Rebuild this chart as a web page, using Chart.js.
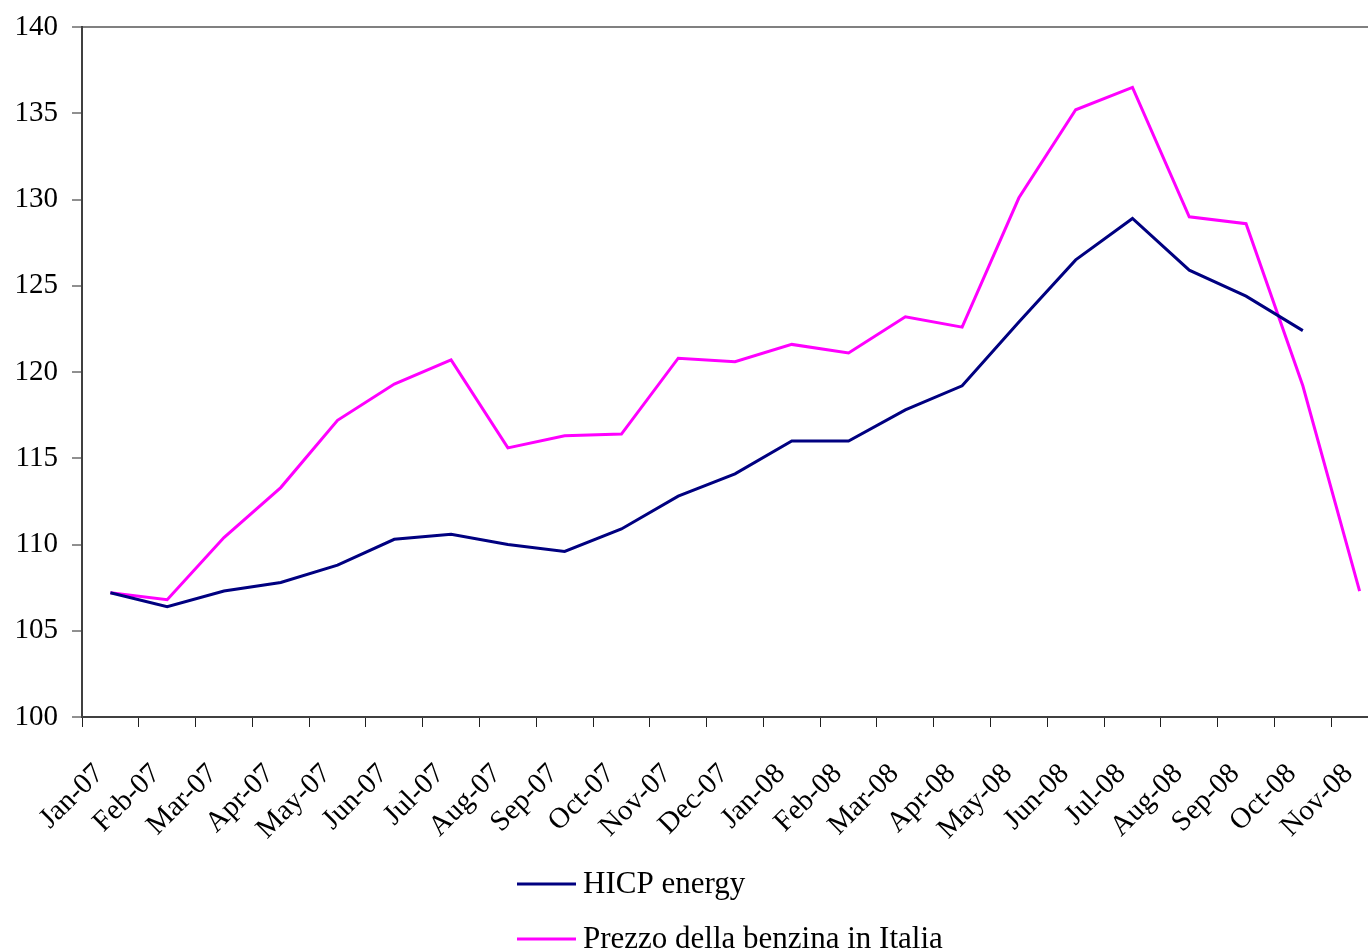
<!DOCTYPE html>
<html>
<head>
<meta charset="utf-8">
<title>HICP energy e prezzo della benzina</title>
<script src="https://cdn.jsdelivr.net/npm/chart.js@4/dist/chart.umd.min.js"></script>
<style>
    html, body { margin: 0; padding: 0; background: #ffffff; overflow: hidden; }
    #wrap { width: 1400px; height: 951px; }
</style>
</head>
<body>
<div id="wrap"><canvas id="chart" width="1400" height="951"></canvas></div>
<script>

// Monthly index values, Jan-07 .. Nov-08
const months = [
    "Jan-07", "Feb-07", "Mar-07", "Apr-07", "May-07", "Jun-07",
    "Jul-07", "Aug-07", "Sep-07", "Oct-07", "Nov-07", "Dec-07",
    "Jan-08", "Feb-08", "Mar-08", "Apr-08", "May-08", "Jun-08",
    "Jul-08", "Aug-08", "Sep-08", "Oct-08", "Nov-08"
];

const hicpEnergy = [
    107.2, 106.4, 107.3, 107.8, 108.8, 110.3,
    110.6, 110.0, 109.6, 110.9, 112.8, 114.1,
    116.0, 116.0, 117.8, 119.2, 122.9, 126.5,
    128.9, 125.9, 124.4, 122.4, null
];

const prezzoBenzina = [
    107.2, 106.8, 110.4, 113.3, 117.2, 119.3,
    120.7, 115.6, 116.3, 116.4, 120.8, 120.6,
    121.6, 121.1, 123.2, 122.6, 130.1, 135.2,
    136.5, 129.0, 128.6, 119.2, 107.3
];

const yTicks = [100, 105, 110, 115, 120, 125, 130, 135, 140];

const serif = "'Liberation Serif', 'Times New Roman', serif";
Chart.defaults.font.family = serif;
Chart.defaults.color = "#000000";

// legend drawn as a vertical list under the x axis labels
const stackedLegend = {
    id: "stackedLegend",
    afterDraw(chart) {
        const { ctx, chartArea } = chart;
        const datasets = chart.data.datasets;
        const lineLen = 59;
        const gap = 7;
        const rowHeight = 55;
        const firstRow = 884;

        ctx.save();
        ctx.font = "31px " + serif;
        const widest = Math.max(...datasets.map(d => ctx.measureText(d.label).width));
        const left = Math.round((chartArea.left + chartArea.right) / 2 - (lineLen + gap + widest) / 2) - 5;

        datasets.forEach((d, i) => {
            const y = firstRow + i * rowHeight;
            ctx.strokeStyle = d.borderColor;
            ctx.lineWidth = 3;
            ctx.beginPath();
            ctx.moveTo(left, y);
            ctx.lineTo(left + lineLen, y);
            ctx.stroke();

            ctx.fillStyle = "#000000";
            ctx.textAlign = "left";
            ctx.textBaseline = "middle";
            ctx.fillText(d.label, left + lineLen + gap, y + 1);
        });
        ctx.restore();
    }
};

new Chart(document.getElementById("chart"), {

    type: "line",

    data: {

        labels: months,

        datasets: [
            {
                label: "HICP energy",
                data: hicpEnergy,
                borderColor: "#000080",
                borderWidth: 3,
                pointRadius: 0,
                tension: 0,
                spanGaps: false
            },
            {
                label: "Prezzo della benzina in Italia",
                data: prezzoBenzina,
                borderColor: "#FF00FF",
                borderWidth: 3,
                pointRadius: 0,
                tension: 0
            }
        ]

    },

    options: {

        responsive: false,

        animation: false,

        events: [],

        layout: {
            padding: { top: 27, left: 0, right: 12, bottom: 0 }
        },

        plugins: {
            legend: { display: false },
            tooltip: { enabled: false }
        },

        scales: {

            x: {
                type: "category",
                offset: true,
                // fixed band height, no extra side padding from the rotated labels
                afterFit(scale) {
                    scale.height = 234;
                    scale.paddingLeft = 0;
                    scale.paddingRight = 0;
                },
                border: { display: true, color: "#404040", width: 2 },
                grid: {
                    offset: true,
                    drawOnChartArea: false,
                    tickLength: 10,
                    tickColor: "#202020",
                    tickWidth: 1
                },
                ticks: {
                    autoSkip: false,
                    minRotation: 45,
                    maxRotation: 45,
                    padding: 30,
                    labelOffset: -11,
                    font: { size: 29 }
                }
            },

            y: {
                min: 100,
                max: 140,
                afterFit(scale) {
                    scale.width = 82;
                    scale.paddingTop = 0;
                    scale.paddingBottom = 0;
                },
                afterBuildTicks(scale) {
                    scale.ticks = yTicks.map(v => ({ value: v }));
                },
                border: { display: true, color: "#404040", width: 2 },
                grid: {
                    drawOnChartArea: true,
                    color: ctx => (ctx.tick && ctx.tick.value === 140 ? "#808080" : "rgba(0,0,0,0)"),
                    lineWidth: 2,
                    tickLength: 10,
                    tickColor: "#202020",
                    tickWidth: 1
                },
                ticks: {
                    padding: 14,
                    font: { size: 29 }
                }
            }

        }

    },

    plugins: [stackedLegend]

});

</script>
</body>
</html>
